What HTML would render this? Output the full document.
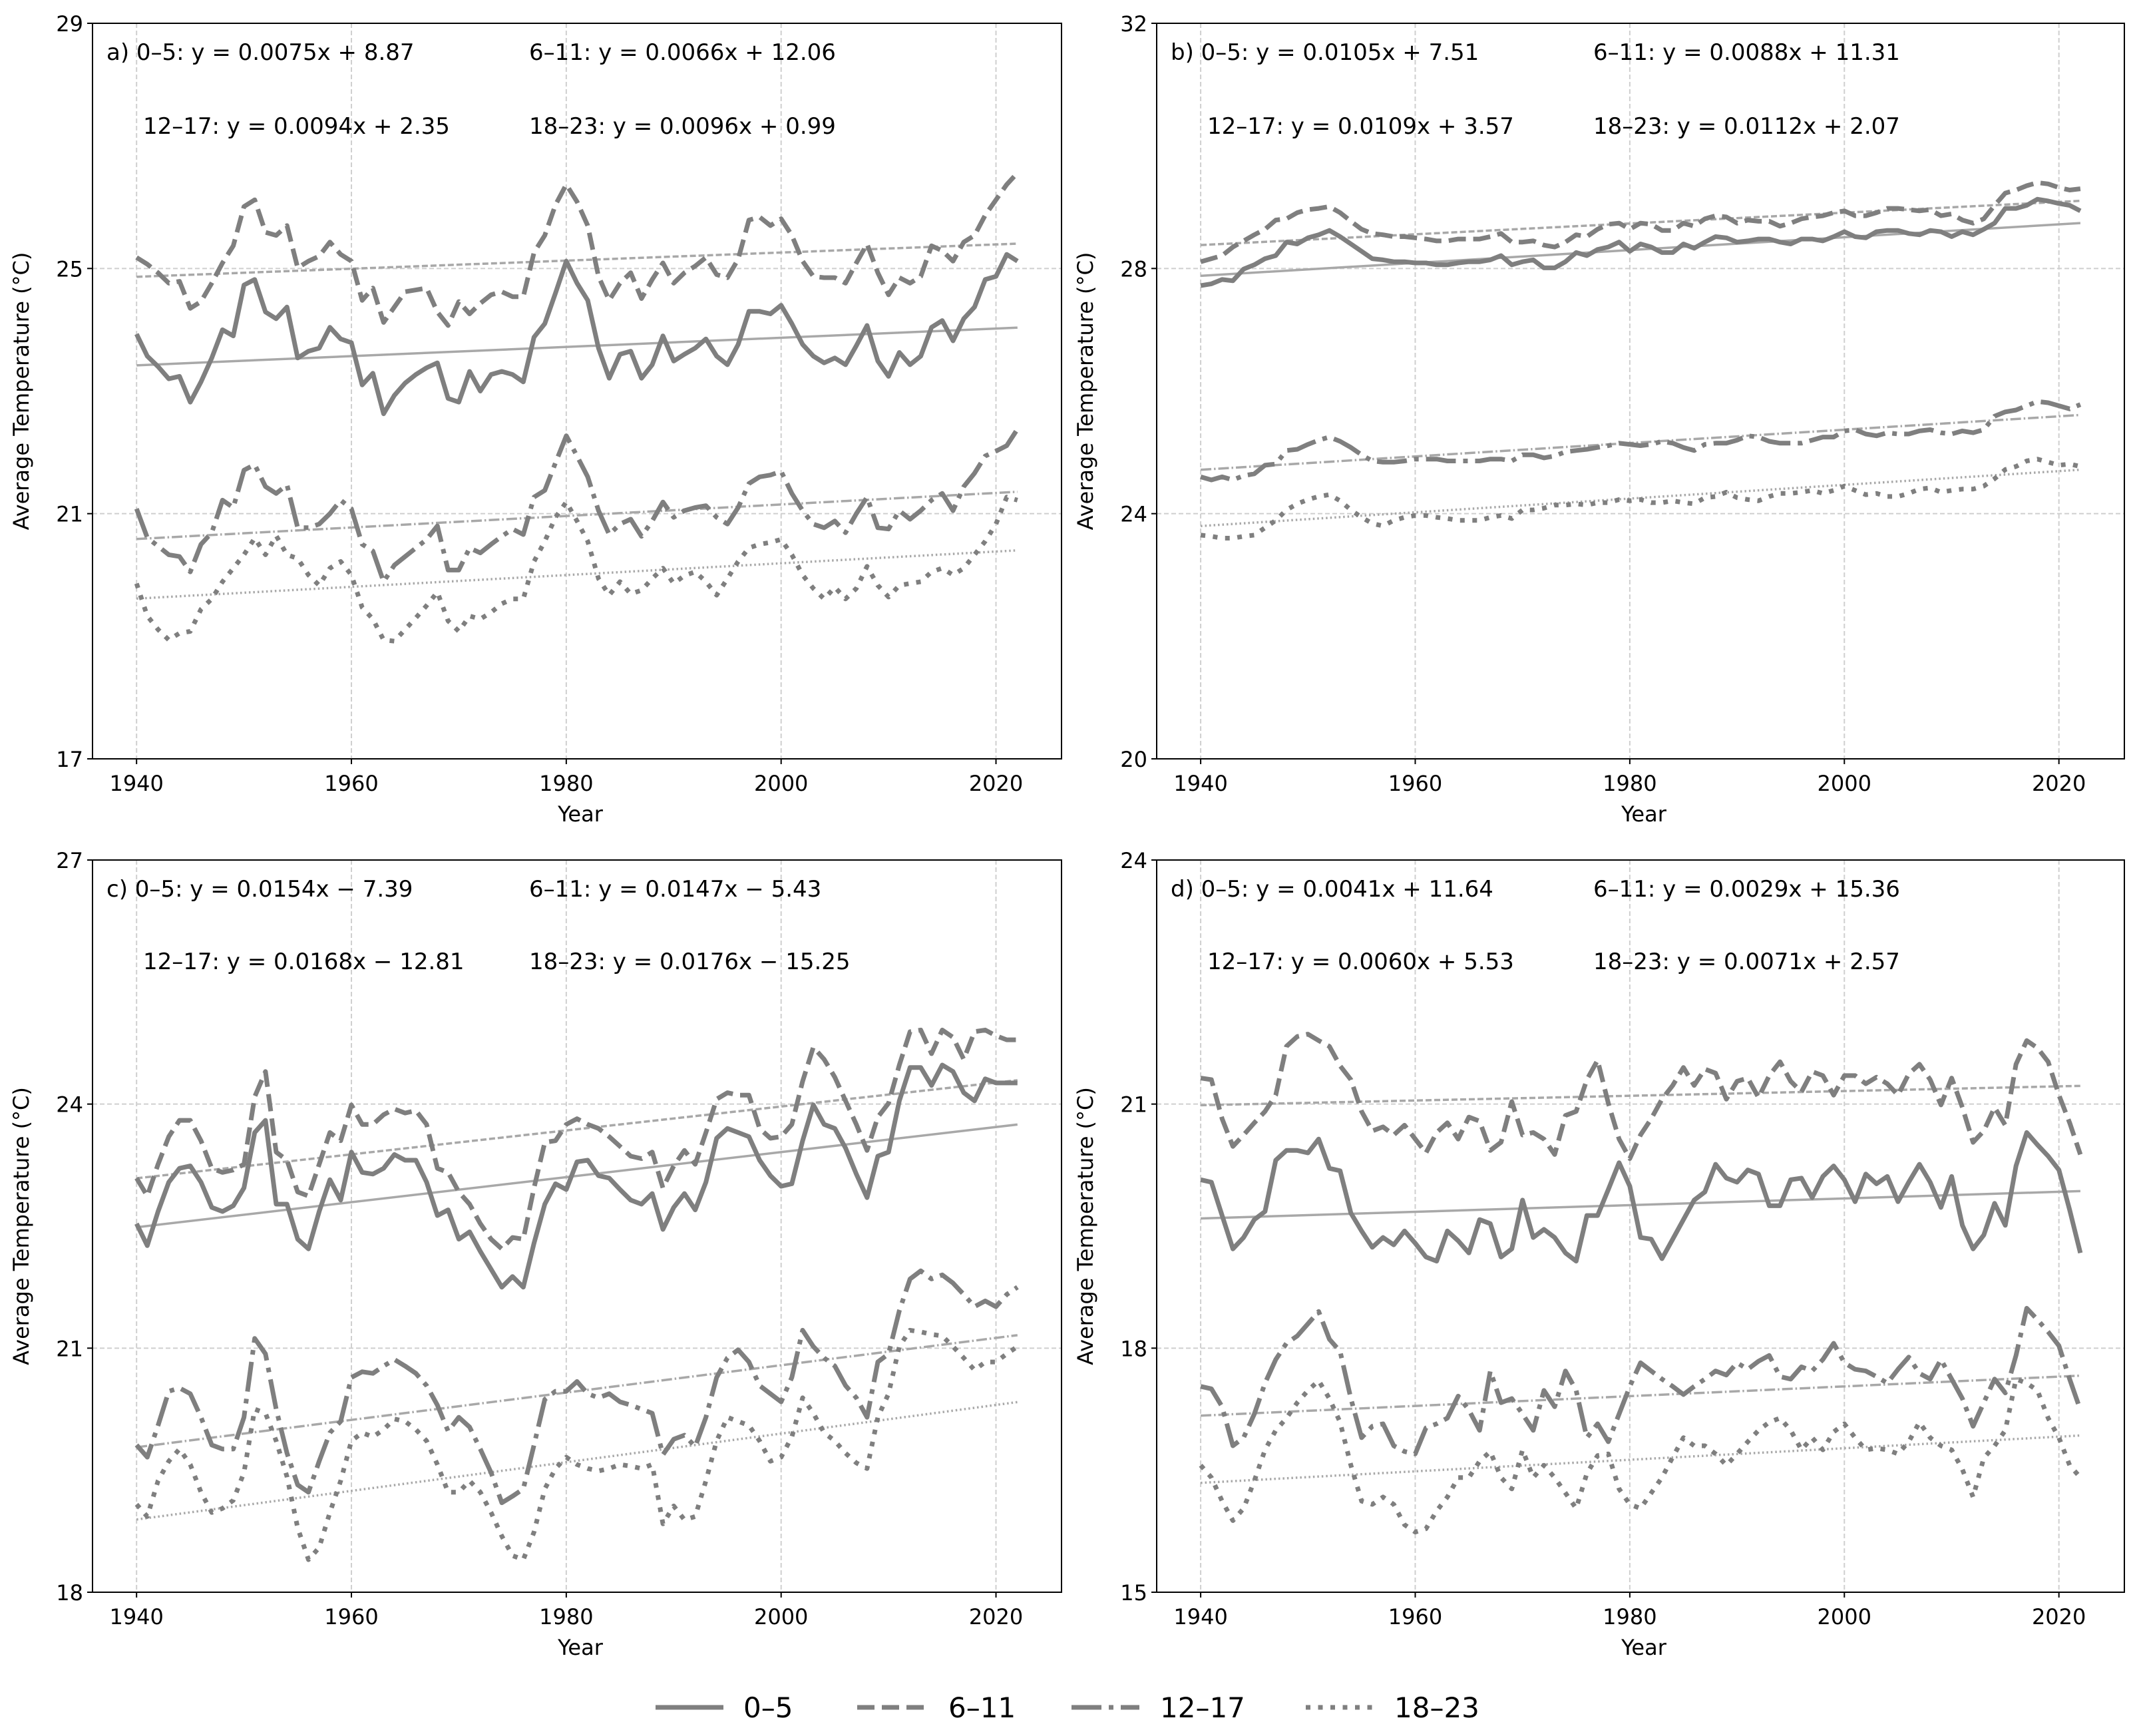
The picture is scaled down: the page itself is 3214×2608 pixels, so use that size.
<!DOCTYPE html>
<html><head><meta charset="utf-8">
<style>
html,body{margin:0;padding:0;background:#fff;}
svg{display:block;font-family:"DejaVu Sans","Liberation Sans",sans-serif;}
</style></head>
<body>
<svg id="chart" width="3214" height="2608" viewBox="0 0 3214 2608" xmlns="http://www.w3.org/2000/svg"></svg>
<script>
const years = []; for (let y = 1940; y <= 2022; y++) years.push(y);
const seriesNames = ["0–5","6–11","12–17","18–23"];

const aS0 = [23.93,23.57,23.4,23.2,23.24,22.82,23.15,23.54,24.0,23.9,24.73,24.82,24.29,24.18,24.37,23.54,23.65,23.7,24.04,23.85,23.79,23.1,23.29,22.63,22.93,23.13,23.27,23.38,23.46,22.88,22.82,23.32,23.0,23.27,23.32,23.27,23.15,23.88,24.1,24.6,25.12,24.76,24.48,23.7,23.21,23.6,23.65,23.21,23.43,23.9,23.49,23.6,23.7,23.85,23.57,23.43,23.76,24.3,24.3,24.26,24.4,24.1,23.76,23.57,23.46,23.54,23.43,23.74,24.07,23.49,23.24,23.63,23.43,23.57,24.04,24.15,23.82,24.18,24.37,24.82,24.87,25.23,25.12];
const aS1 = [25.18,25.07,24.93,24.76,24.79,24.35,24.46,24.76,25.09,25.37,26.01,26.12,25.59,25.54,25.7,25.01,25.12,25.2,25.43,25.23,25.12,24.48,24.68,24.12,24.37,24.62,24.65,24.68,24.29,24.07,24.46,24.26,24.43,24.57,24.62,24.54,24.54,25.26,25.54,26.04,26.37,26.09,25.7,24.87,24.48,24.76,24.93,24.51,24.82,25.09,24.76,24.93,25.04,25.18,24.9,24.85,25.15,25.79,25.84,25.7,25.81,25.54,25.12,24.87,24.85,24.85,24.76,25.09,25.4,24.93,24.57,24.85,24.76,24.87,25.37,25.29,25.12,25.43,25.54,25.87,26.12,26.37,26.56];
const aS2 = [21.08,20.61,20.47,20.33,20.3,20.05,20.5,20.69,21.22,21.1,21.71,21.8,21.44,21.33,21.47,20.77,20.77,20.83,21.0,21.22,21.08,20.5,20.39,19.89,20.16,20.3,20.44,20.58,20.8,20.08,20.08,20.44,20.36,20.5,20.63,20.75,20.66,21.27,21.38,21.83,22.27,21.94,21.6,21.05,20.66,20.83,20.91,20.63,20.88,21.19,20.94,21.05,21.1,21.13,20.94,20.83,21.1,21.49,21.6,21.63,21.69,21.33,21.05,20.83,20.77,20.88,20.69,21.0,21.27,20.77,20.75,21.05,20.91,21.05,21.22,21.33,21.05,21.44,21.66,21.94,22.02,22.11,22.38];
const aS3 = [19.86,19.33,19.11,18.94,19.05,19.08,19.44,19.61,19.89,20.11,20.33,20.6,20.33,20.64,20.33,20.27,20.0,19.83,20.11,20.22,20.0,19.47,19.28,18.94,18.92,19.11,19.3,19.5,19.72,19.25,19.08,19.33,19.28,19.39,19.53,19.61,19.61,20.22,20.55,20.94,21.19,20.88,20.55,19.94,19.67,19.89,19.69,19.75,19.94,20.11,19.86,19.99,20.05,19.89,19.67,19.94,20.22,20.44,20.5,20.53,20.58,20.33,20.0,19.78,19.61,19.8,19.61,19.78,20.14,19.83,19.64,19.83,19.86,19.89,20.05,20.11,20.0,20.11,20.33,20.55,20.83,21.27,21.22];

const bS0 = [27.72,27.75,27.82,27.8,27.99,28.06,28.16,28.21,28.43,28.4,28.5,28.55,28.62,28.52,28.4,28.28,28.16,28.14,28.11,28.11,28.09,28.09,28.06,28.06,28.09,28.11,28.11,28.14,28.21,28.06,28.11,28.14,28.01,28.01,28.11,28.26,28.21,28.31,28.35,28.43,28.28,28.4,28.35,28.26,28.26,28.4,28.33,28.43,28.52,28.5,28.43,28.45,28.48,28.48,28.43,28.4,28.48,28.48,28.45,28.52,28.6,28.52,28.5,28.6,28.62,28.62,28.57,28.55,28.62,28.6,28.52,28.6,28.55,28.64,28.74,28.98,28.98,29.03,29.13,29.1,29.06,29.03,28.94];
const bS1 = [28.11,28.16,28.21,28.35,28.45,28.55,28.64,28.79,28.81,28.91,28.96,28.98,29.01,28.91,28.77,28.64,28.57,28.55,28.52,28.52,28.5,28.48,28.45,28.45,28.48,28.48,28.48,28.52,28.57,28.43,28.43,28.45,28.38,28.35,28.43,28.55,28.52,28.64,28.72,28.74,28.64,28.74,28.72,28.62,28.62,28.74,28.69,28.81,28.86,28.84,28.74,28.79,28.77,28.77,28.69,28.74,28.81,28.84,28.86,28.91,28.94,28.86,28.86,28.91,28.98,28.98,28.96,28.94,28.96,28.86,28.89,28.79,28.74,28.81,29.03,29.23,29.28,29.35,29.4,29.38,29.32,29.28,29.3];
const bS2 = [24.6,24.55,24.6,24.55,24.62,24.65,24.79,24.81,25.03,25.05,25.13,25.2,25.25,25.18,25.08,24.96,24.86,24.84,24.84,24.86,24.89,24.89,24.89,24.86,24.86,24.86,24.86,24.89,24.89,24.86,24.96,24.96,24.91,24.94,25.01,25.03,25.05,25.08,25.11,25.15,25.13,25.11,25.13,25.18,25.15,25.08,25.03,25.13,25.15,25.15,25.2,25.27,25.25,25.18,25.15,25.15,25.15,25.2,25.25,25.25,25.35,25.37,25.3,25.27,25.32,25.3,25.3,25.35,25.37,25.32,25.3,25.35,25.32,25.37,25.59,25.66,25.69,25.76,25.83,25.81,25.76,25.71,25.78];
const bS3 = [23.65,23.63,23.6,23.6,23.63,23.65,23.77,23.89,24.06,24.16,24.23,24.28,24.31,24.21,24.06,23.94,23.84,23.8,23.89,23.94,23.97,23.97,23.94,23.92,23.89,23.89,23.89,23.94,23.97,23.92,24.06,24.06,24.09,24.14,24.14,24.16,24.14,24.18,24.18,24.23,24.21,24.23,24.18,24.18,24.21,24.18,24.16,24.26,24.28,24.35,24.26,24.23,24.21,24.28,24.33,24.33,24.35,24.38,24.33,24.38,24.45,24.38,24.31,24.33,24.28,24.28,24.33,24.4,24.42,24.35,24.38,24.4,24.4,24.45,24.57,24.72,24.77,24.86,24.89,24.84,24.79,24.81,24.77];

const cS0 = [22.53,22.26,22.68,23.04,23.21,23.24,23.04,22.73,22.68,22.75,22.97,23.65,23.8,22.77,22.77,22.34,22.22,22.68,23.07,22.82,23.41,23.16,23.14,23.21,23.38,23.31,23.31,23.04,22.63,22.7,22.34,22.43,22.19,21.97,21.75,21.88,21.75,22.29,22.77,23.02,22.95,23.29,23.31,23.12,23.09,22.95,22.82,22.77,22.9,22.46,22.73,22.9,22.7,23.04,23.58,23.7,23.65,23.6,23.31,23.12,22.99,23.02,23.55,23.99,23.75,23.7,23.46,23.14,22.85,23.36,23.41,24.04,24.45,24.45,24.23,24.48,24.4,24.14,24.04,24.31,24.26,24.26,24.26];
const cS1 = [23.09,22.87,23.26,23.6,23.8,23.8,23.55,23.21,23.16,23.19,23.26,24.09,24.4,23.41,23.31,22.92,22.87,23.26,23.65,23.55,23.99,23.75,23.75,23.87,23.94,23.89,23.92,23.75,23.21,23.16,22.92,22.77,22.53,22.34,22.22,22.36,22.34,22.97,23.53,23.55,23.75,23.82,23.75,23.7,23.6,23.48,23.36,23.33,23.41,22.97,23.24,23.43,23.26,23.65,24.06,24.14,24.11,24.11,23.7,23.58,23.6,23.75,24.28,24.7,24.55,24.33,24.04,23.75,23.43,23.84,24.01,24.48,24.89,24.91,24.62,24.91,24.82,24.55,24.89,24.91,24.84,24.79,24.79];
const cS2 = [19.81,19.66,20.05,20.47,20.51,20.44,20.15,19.81,19.76,19.76,20.15,21.12,20.93,20.25,19.71,19.32,19.23,19.61,19.96,20.1,20.64,20.71,20.69,20.78,20.86,20.78,20.69,20.54,20.3,19.98,20.15,20.03,19.76,19.47,19.1,19.18,19.27,19.81,20.37,20.47,20.47,20.59,20.44,20.39,20.44,20.34,20.3,20.25,20.2,19.69,19.88,19.93,19.79,20.15,20.64,20.88,20.98,20.83,20.54,20.44,20.34,20.64,21.22,21.02,20.88,20.78,20.54,20.39,20.15,20.83,20.93,21.46,21.85,21.95,21.85,21.9,21.8,21.66,21.51,21.58,21.51,21.66,21.75];
const cS3 = [19.08,18.93,19.37,19.61,19.76,19.57,19.23,18.98,19.03,19.13,19.47,20.25,20.2,19.86,19.42,18.79,18.4,18.55,18.98,19.37,19.86,19.96,19.91,20.0,20.13,20.1,20.0,19.86,19.57,19.23,19.23,19.37,19.23,18.98,18.69,18.45,18.4,18.74,19.27,19.52,19.66,19.57,19.52,19.49,19.52,19.57,19.55,19.52,19.57,18.84,19.06,18.89,18.93,19.37,19.86,20.15,20.1,20.05,19.86,19.61,19.66,19.91,20.39,20.2,19.96,19.86,19.71,19.59,19.52,20.15,20.44,21.02,21.22,21.2,21.17,21.15,21.02,20.88,20.73,20.83,20.83,20.93,21.02];

const dS0 = [20.07,20.04,19.63,19.22,19.36,19.58,19.68,20.31,20.43,20.43,20.4,20.57,20.21,20.18,19.66,19.44,19.24,19.36,19.27,19.44,19.29,19.12,19.07,19.44,19.32,19.17,19.58,19.53,19.12,19.22,19.82,19.36,19.46,19.36,19.17,19.07,19.63,19.63,19.95,20.28,19.99,19.36,19.34,19.1,19.34,19.58,19.82,19.92,20.26,20.09,20.04,20.19,20.14,19.75,19.75,20.07,20.09,19.85,20.11,20.24,20.07,19.8,20.14,20.02,20.11,19.8,20.04,20.26,20.04,19.73,20.11,19.51,19.22,19.39,19.78,19.51,20.24,20.65,20.5,20.36,20.19,19.7,19.17];
const dS1 = [21.32,21.3,20.82,20.48,20.62,20.77,20.91,21.11,21.71,21.83,21.86,21.78,21.71,21.47,21.3,20.91,20.67,20.72,20.62,20.74,20.57,20.4,20.65,20.77,20.57,20.84,20.79,20.43,20.53,21.03,20.62,20.65,20.57,20.38,20.86,20.91,21.3,21.54,21.01,20.57,20.33,20.62,20.82,21.06,21.23,21.45,21.23,21.43,21.38,21.06,21.28,21.32,21.08,21.35,21.52,21.28,21.15,21.4,21.35,21.11,21.35,21.35,21.25,21.33,21.25,21.11,21.37,21.49,21.3,20.99,21.32,20.96,20.53,20.67,20.96,20.74,21.49,21.78,21.69,21.52,21.11,20.77,20.38];
const dS2 = [17.53,17.5,17.28,16.8,16.9,17.19,17.57,17.86,18.06,18.15,18.3,18.45,18.11,17.96,17.38,16.9,17.04,17.07,16.8,16.73,16.7,17.02,17.07,17.14,17.41,17.24,16.99,17.72,17.33,17.38,17.19,16.99,17.48,17.28,17.72,17.48,16.9,17.07,16.85,17.19,17.53,17.82,17.72,17.62,17.53,17.43,17.53,17.62,17.72,17.67,17.82,17.74,17.84,17.91,17.65,17.62,17.77,17.72,17.86,18.06,17.82,17.74,17.72,17.65,17.57,17.74,17.89,17.69,17.62,17.86,17.62,17.38,17.04,17.33,17.62,17.45,17.91,18.49,18.35,18.2,18.03,17.62,17.24];
const dS3 = [16.56,16.41,16.12,15.88,16.03,16.37,16.75,16.99,17.14,17.33,17.48,17.6,17.38,17.09,16.56,16.12,16.08,16.17,16.08,15.83,15.74,15.78,16.0,16.17,16.41,16.41,16.61,16.73,16.41,16.27,16.75,16.41,16.56,16.41,16.22,16.03,16.46,16.68,16.7,16.27,16.08,16.03,16.22,16.41,16.66,16.9,16.8,16.8,16.7,16.56,16.7,16.85,16.99,17.09,17.14,16.99,16.75,16.9,16.75,16.97,17.07,16.9,16.75,16.77,16.75,16.7,16.85,17.09,16.9,16.8,16.75,16.51,16.17,16.65,16.8,16.99,17.62,17.57,17.48,17.14,16.9,16.56,16.41];

const aSlopes = [0.0075,0.0066,0.0094,0.0096], aIntercepts = [8.87,12.06,2.35,0.99];
const bSlopes = [0.0105,0.0088,0.0109,0.0112], bIntercepts = [7.51,11.31,3.57,2.07];
const cSlopes = [0.0154,0.0147,0.0168,0.0176], cIntercepts = [-7.39,-5.43,-12.81,-15.25];
const dSlopes = [0.0041,0.0029,0.0060,0.0071], dIntercepts = [11.64,15.36,5.53,2.57];

const aTicks = [17,21,25,29], bTicks = [20,24,28,32], cTicks = [18,21,24,27], dTicks = [15,18,21,24];
const xTicks = [1940,1960,1980,2000,2020];

const panels = [
  {id:"a", series:[aS0,aS1,aS2,aS3], slopes:aSlopes, ints:aIntercepts, ticks:aTicks, L:139, R:1595, T:35, B:1140, tx:160, tx2:795, tr:215, ty:90, ty2:201},
  {id:"b", series:[bS0,bS1,bS2,bS3], slopes:bSlopes, ints:bIntercepts, ticks:bTicks, L:1738, R:3192, T:35, B:1140, tx:1759, tx2:2394, tr:1814, ty:90, ty2:201},
  {id:"c", series:[cS0,cS1,cS2,cS3], slopes:cSlopes, ints:cIntercepts, ticks:cTicks, L:139, R:1595, T:1292, B:2392, tx:160, tx2:795, tr:215, ty:1347, ty2:1456},
  {id:"d", series:[dS0,dS1,dS2,dS3], slopes:dSlopes, ints:dIntercepts, ticks:dTicks, L:1738, R:3192, T:1292, B:2392, tx:1759, tx2:2394, tr:1814, ty:1347, ty2:1456}
];
const dataDash = ["", "26 11", "45 11 7 11", "7 11.5"];
const trendDash = ["", "9 4", "16 4 2.5 4", "2.5 4"];
const NS = "http://www.w3.org/2000/svg";
const svg = document.getElementById("chart");
function mk(tag, attrs, parent){ const e=document.createElementNS(NS,tag); for(const k in attrs) e.setAttribute(k,attrs[k]); (parent||svg).appendChild(e); return e; }
function fmt(v){ const s = Math.abs(v).toFixed(2); return (v<0?"− ":"+ ")+s; }

panels.forEach(p => {
  const g = mk("g", {});
  
  
  const x0 = 1935.9, x1 = 2026.1;
  const yMin = p.ticks[0], yMax = p.ticks[p.ticks.length-1];
  const X = yr => p.L + (yr - x0) / (x1 - x0) * (p.R - p.L);
  const Y = v => p.B - (v - yMin) / (yMax - yMin) * (p.B - p.T);
  xTicks.forEach(t => {
    const l = mk("line", {x1:X(t), x2:X(t), y1:p.T, y2:p.B, stroke:"#cfcfcf", "stroke-width":2, "stroke-dasharray":"7 4"}, g);
    
    
    mk("line", {x1:X(t), x2:X(t), y1:p.B, y2:p.B+8, stroke:"#000", "stroke-width":2}, g);
    const tl = mk("text", {x:X(t), y:p.B+48, "text-anchor":"middle", "font-size":32, fill:"#000"}, g);
    tl.textContent = t;
    
    
  });
  p.ticks.forEach(t => {
    const l = mk("line", {x1:p.L, x2:p.R, y1:Y(t), y2:Y(t), stroke:"#cfcfcf", "stroke-width":2, "stroke-dasharray":"7 4"}, g);
    
    
    mk("line", {x1:p.L-8, x2:p.L, y1:Y(t), y2:Y(t), stroke:"#000", "stroke-width":2}, g);
    const tl = mk("text", {x:p.L-14, y:Y(t)+12, "text-anchor":"end", "font-size":32, fill:"#000"}, g);
    tl.textContent = t;
    
    
  });
  p.slopes.forEach((s, i) => {
    const ya = s*years[0] + p.ints[i], yb = s*years[years.length-1] + p.ints[i];
    const l = mk("line", {x1:X(years[0]), y1:Y(ya), x2:X(years[years.length-1]), y2:Y(yb), stroke:"#a8a8a8", "stroke-width":3.5, "stroke-dasharray":trendDash[i]}, g);
    
    
  });
  p.series.forEach((arr, i) => {
    const d = arr.map((v, k) => (k?"L":"M") + X(years[k]).toFixed(1) + "," + Y(v).toFixed(1)).join("");
    const l = mk("path", {d:d, fill:"none", stroke:"#7f7f7f", "stroke-width":7, "stroke-dasharray":dataDash[i], "stroke-linejoin":"round"}, g);
    
    
  });
  const fr = mk("rect", {x:p.L, y:p.T, width:p.R-p.L, height:p.B-p.T, fill:"none", stroke:"#000", "stroke-width":2}, g);
  
  
  const eqs = p.slopes.map((s,i) => seriesNames[i] + ": y = " + s.toFixed(4) + "x " + fmt(p.ints[i]));
  const pos = [[p.tx, p.ty, p.id + ") " + eqs[0]], [p.tx2, p.ty, eqs[1]], [p.tr, p.ty2, eqs[2]], [p.tx2, p.ty2, eqs[3]]];
  pos.forEach(q => {
    const t = mk("text", {x:q[0], y:q[1], "font-size":34, fill:"#000"}, g);
    t.textContent = q[2];
    
    
  });
  const xl = mk("text", {x:(p.L+p.R)/2 + 5, y:p.B+94, "text-anchor":"middle", "font-size":32, fill:"#000"}, g);
  xl.textContent = "Year";
  
  
  const cy = (p.T+p.B)/2, cx = p.L-96;
  const yl = mk("text", {x:cx, y:cy, "text-anchor":"middle", "font-size":32, fill:"#000", transform:"rotate(-90 "+cx+" "+cy+")"}, g);
  yl.textContent = "Average Temperature (°C)";
  
  
});

const leg = mk("g", {});


const legLines = [[985,1087,1117],[1288,1394,1425],[1610,1712,1743],[1962,2066,2095]];
legLines.forEach((q, i) => {
  const e = mk("g", {}, leg);
  
  
  mk("line", {x1:q[0], x2:q[1], y1:2565, y2:2565, stroke:"#7f7f7f", "stroke-width":7, "stroke-dasharray":dataDash[i]}, e);
  const t = mk("text", {x:q[2], y:2580, "font-size":42, fill:"#000"}, e);
  t.textContent = seriesNames[i];
});
</script>
</body></html>
